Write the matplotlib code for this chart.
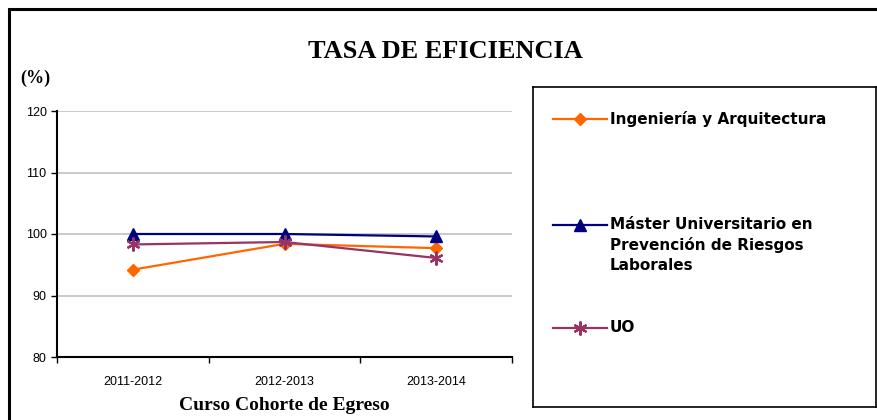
import matplotlib.pyplot as plt
from matplotlib.patches import Rectangle
from matplotlib.lines import Line2D

# data
cursos = ['2011-2012', '2012-2013', '2013-2014']
ingenieria = [94.2, 98.4, 97.7]
master = [100.0, 100.0, 99.6]
uo = [98.3, 98.7, 96.1]

series_names = ['Ingeniería y Arquitectura',
                'Máster Universitario en\nPrevención de Riesgos\nLaborales',
                'UO']

serif = 'Liberation Serif'
sans = 'Liberation Sans'

fig = plt.figure(figsize=(8.77, 4.2), dpi=100)

# outer frame of the chart area (its right and bottom edges are cut off)
fig.patches.append(Rectangle((9 / 877, -0.1), 1.2, 0.1 + (420 - 9) / 420,
                             transform=fig.transFigure, fill=False,
                             edgecolor='black', linewidth=2.2))

ax = fig.add_axes([57 / 877, (420 - 357) / 420, 455 / 877, 246 / 420])

x = range(len(cursos))
ax.plot(x, ingenieria, color='#FF6600', marker='D', markersize=6.5, linewidth=1.6)
ax.plot(x, master, color='#000080', marker='^', markersize=8.5, linewidth=1.6)
ax.plot(x, uo, color='#993366', marker=(6, 2, 0), markersize=10,
        markeredgewidth=1.6, linewidth=1.6)

ax.set_xlim(-0.5, 2.5)
ax.set_ylim(80, 120)
ax.set_yticks([80, 90, 100, 110, 120])
ax.set_xticks(list(x))
ax.set_xticklabels(cursos, fontfamily=sans, fontsize=9)
ax.set_xticks([-0.5, 0.5, 1.5, 2.5], minor=True)
ax.tick_params(axis='x', which='major', length=0, pad=14)
ax.tick_params(axis='x', which='minor', length=4, width=1, direction='out')
ax.tick_params(axis='y', length=4, width=1, direction='out', labelsize=9)
for lab in ax.get_yticklabels():
    lab.set_fontfamily(sans)
ax.grid(axis='y', color='#c0c0c0', linewidth=1.2)
ax.set_axisbelow(True)
ax.spines['top'].set_visible(False)
ax.spines['right'].set_visible(False)
ax.spines['left'].set_linewidth(1.5)
ax.spines['bottom'].set_linewidth(1.5)

ax.set_xlabel('Curso Cohorte de Egreso', fontfamily=serif, fontweight='bold',
              fontsize=14, labelpad=6)

fig.text(445 / 877, (420 - 51) / 420, 'TASA DE EFICIENCIA', ha='center', va='center',
         fontfamily=serif, fontweight='bold', fontsize=19)
fig.text(20 / 877, (420 - 78) / 420, '(%)', ha='left', va='center',
         fontfamily=serif, fontweight='bold', fontsize=13)

# legend box
lax = fig.add_axes([533 / 877, (420 - 407) / 420, 343 / 877, 320 / 420])
lax.set_xlim(0, 343)
lax.set_ylim(320, 0)
lax.set_xticks([])
lax.set_yticks([])
for s in lax.spines.values():
    s.set_linewidth(1.2)

handles = [
    dict(color='#FF6600', marker='D', markersize=6.5),
    dict(color='#000080', marker='^', markersize=8.5),
    dict(color='#993366', marker=(6, 2, 0), markersize=10, markeredgewidth=1.6),
]
rows = [32, 138, 241]
for name, h, yrow in zip(series_names, handles, rows):
    lax.add_line(Line2D([20, 74], [yrow, yrow], linewidth=1.6, color=h['color']))
    lax.add_line(Line2D([47], [yrow], linestyle='none', **h))
    lax.text(77, yrow - 8, name, ha='left', va='top', fontfamily='DejaVu Sans',
             fontweight='bold', fontsize=11, linespacing=1.4)

fig.savefig('out.png', dpi=100)
